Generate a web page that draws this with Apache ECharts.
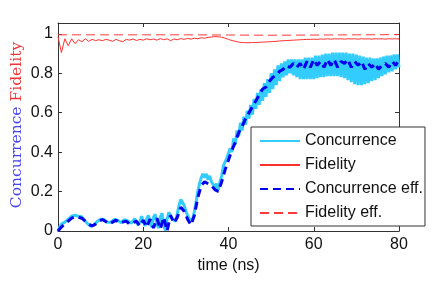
<!DOCTYPE html>
<html>
<head>
<meta charset="utf-8">
<script src="https://cdn.jsdelivr.net/npm/echarts@6/dist/echarts.min.js"></script>
<style>html,body{margin:0;padding:0;background:#fff}#c{width:436px;height:289px}</style>
</head>
<body>
<div id="c"></div>
<script>
// x axis ticks
const xTicks = [0, 20, 40, 60, 80];
const yTicks = [0, 0.2, 0.4, 0.6, 0.8, 1];
// sampling steps (ns) of each series
const concurrenceStep = 0.4;
const concurrenceEffStep = 0.8;
const fidelityStep = 0.8;
const fidelityEffStep = 10;

const concurrence = [
0.00,0.02,0.035,0.04,0.045,0.05,0.06,0.068,0.075,0.078,
0.08,0.079,0.075,0.07,0.072,0.06,0.05,0.04,0.03,0.025,
0.022,0.03,0.04,0.048,0.055,0.06,0.064,0.058,0.05,0.044,
0.04,0.045,0.052,0.058,0.06,0.055,0.046,0.042,0.05,0.058,
0.06,0.05,0.043,0.04,0.05,0.062,0.052,0.03,0.045,0.075,
0.05,0.025,0.06,0.08,0.04,0.02,0.07,0.085,0.035,0.015,
0.07,0.09,0.03,0.002,0.06,0.095,0.09,0.06,0.05,0.05,
0.09,0.13,0.16,0.155,0.13,0.1,0.08,0.06,0.05,0.06,
0.1,0.15,0.2,0.24,0.27,0.29,0.27,0.29,0.26,0.28,
0.25,0.26,0.22,0.24,0.21,0.25,0.28,0.33,0.32,0.37,
0.36,0.42,0.40,0.47,0.44,0.51,0.48,0.55,0.51,0.58,
0.54,0.61,0.57,0.64,0.59,0.67,0.62,0.70,0.64,0.72,
0.66,0.75,0.68,0.77,0.70,0.80,0.72,0.82,0.74,0.84,
0.76,0.85,0.78,0.86,0.79,0.87,0.80,0.87,0.79,0.87,
0.78,0.87,0.77,0.87,0.77,0.88,0.77,0.88,0.77,0.88,
0.77,0.89,0.775,0.89,0.78,0.895,0.78,0.90,0.785,0.90,
0.785,0.905,0.785,0.905,0.785,0.905,0.78,0.905,0.775,0.905,
0.765,0.90,0.755,0.90,0.745,0.895,0.74,0.89,0.74,0.885,
0.745,0.88,0.75,0.88,0.76,0.875,0.765,0.875,0.775,0.88,
0.785,0.885,0.795,0.89,0.805,0.89,0.81,0.895,0.82,0.895,
0.83
];

const concurrenceEff = [
0.0,0.02,0.035,0.05,0.065,0.072,0.07,0.065,0.05,0.035,
0.025,0.035,0.05,0.058,0.048,0.035,0.045,0.055,0.04,0.045,
0.05,0.035,0.042,0.05,0.025,0.055,0.02,0.06,0.015,0.065,
0.01,0.07,0.0,0.08,0.04,0.07,0.12,0.1,0.06,0.03,
0.08,0.17,0.23,0.25,0.24,0.23,0.21,0.2,0.25,0.31,
0.36,0.41,0.45,0.5,0.53,0.57,0.6,0.63,0.66,0.69,
0.72,0.73,0.76,0.78,0.79,0.81,0.82,0.84,0.83,0.85,
0.83,0.85,0.82,0.86,0.83,0.87,0.84,0.86,0.83,0.87,
0.84,0.87,0.83,0.86,0.85,0.87,0.83,0.86,0.84,0.86,
0.82,0.85,0.83,0.85,0.82,0.84,0.85,0.83,0.86,0.84,
0.87
];

const fidelity = [
0.985,0.905,0.975,0.94,0.975,0.95,0.97,0.96,0.975,0.962,
0.972,0.966,0.97,0.965,0.972,0.968,0.962,0.972,0.965,0.96,
0.972,0.968,0.974,0.966,0.972,0.968,0.975,0.97,0.974,0.968,
0.976,0.97,0.975,0.965,0.974,0.97,0.976,0.972,0.977,0.973,
0.978,0.975,0.98,0.978,0.982,0.984,0.986,0.985,0.983,0.978,
0.972,0.966,0.962,0.958,0.956,0.955,0.955,0.956,0.956,0.957,
0.958,0.959,0.96,0.961,0.962,0.964,0.965,0.966,0.967,0.968,
0.969,0.97,0.971,0.972,0.972,0.973,0.972,0.974,0.973,0.975,
0.973,0.975,0.974,0.975,0.973,0.975,0.974,0.975,0.973,0.975,
0.974,0.975,0.973,0.975,0.974,0.975,0.973,0.975,0.974,0.975,
0.974
];

const fidelityEff = [0.995,0.995,0.995,0.995,0.994,0.993,0.994,0.995,0.996];

function pairs(values, step) {
  return values.map(function (v, i) { return [+(i * step).toFixed(3), v]; });
}

const chart = echarts.init(document.getElementById('c'), null, {renderer: 'canvas'});
const axisCol = '#333';
const sans = 'Liberation Sans, Arial, sans-serif';
const serif = 'DejaVu Serif, serif';

chart.setOption({
  animation: false,
  backgroundColor: '#fff',
  grid: {left: 58, right: 37, top: 23, bottom: 58, containLabel: false, outerBoundsMode: 'none'},
  legend: {
    orient: 'vertical',
    left: 251, top: 127,
    itemWidth: 40, itemHeight: 14, itemGap: 8,
    padding: [6, 2, 5, 8],
    backgroundColor: '#fff',
    borderColor: '#333', borderWidth: 1, borderRadius: 0,
    itemStyle: {opacity: 0},
    textStyle: {fontFamily: sans, fontSize: 16, color: '#111'},
    data: ['Concurrence', 'Fidelity', 'Concurrence eff.', 'Fidelity eff.']
  },
  xAxis: [{
    type: 'value', min: 0, max: 80, interval: 20,
    name: 'time (ns)', nameLocation: 'middle', nameGap: 26,
    nameTextStyle: {fontFamily: sans, fontSize: 16, color: '#111'},
    axisLine: {onZero: false, lineStyle: {color: axisCol, width: 1}},
    axisTick: {inside: true, length: 4, lineStyle: {color: axisCol}},
    axisLabel: {fontFamily: sans, fontSize: 16, color: '#111', margin: 6,
      formatter: function (v) { return xTicks.indexOf(v) >= 0 ? String(v) : ''; }},
    splitLine: {show: false}
  }, {
    type: 'value', position: 'top', min: 0, max: 80, interval: 20,
    axisLine: {onZero: false, lineStyle: {color: axisCol, width: 1}},
    axisTick: {inside: true, length: 4, lineStyle: {color: axisCol}},
    axisLabel: {show: false}, splitLine: {show: false}
  }],
  yAxis: [{
    type: 'value', min: 0, max: 1.055, interval: 0.2,
    name: '{b|Concurrence} {r|Fidelity}', nameLocation: 'middle', nameGap: 33, nameRotate: 90,
    nameMoveOverlap: false,
    nameTextStyle: {
      rich: {
        b: {fontFamily: serif, fontSize: 15.5, color: '#4646f0'},
        r: {fontFamily: serif, fontSize: 15.5, color: '#ee3636'}
      },
      fontFamily: serif, fontSize: 15.5, padding: [0, 0, 0, 4]
    },
    axisLine: {show: true, onZero: false, lineStyle: {color: axisCol, width: 1}},
    axisTick: {show: true, inside: true, length: 4, lineStyle: {color: axisCol}},
    axisLabel: {fontFamily: sans, fontSize: 16, color: '#111', margin: 5, showMaxLabel: false,
      formatter: function (v) {
        for (let i = 0; i < yTicks.length; i++) { if (Math.abs(v - yTicks[i]) < 1e-6) return String(yTicks[i]); }
        return '';
      }},
    splitLine: {show: false}
  }, {
    type: 'value', position: 'right', min: 0, max: 1.055, interval: 0.2,
    axisLine: {show: true, onZero: false, lineStyle: {color: axisCol, width: 1}},
    axisTick: {show: true, inside: true, length: 4, lineStyle: {color: axisCol}},
    axisLabel: {show: false}, splitLine: {show: false}
  }],
  series: [{
    name: 'Concurrence', type: 'line', symbol: 'none', z: 2,
    data: pairs(concurrence, concurrenceStep),
    lineStyle: {color: '#33ccff', width: 3}, itemStyle: {color: '#33ccff'}
  }, {
    name: 'Fidelity', type: 'line', symbol: 'none', z: 3,
    data: pairs(fidelity, fidelityStep),
    lineStyle: {color: '#ff3030', width: 1}, itemStyle: {color: '#ff3030'}
  }, {
    name: 'Concurrence eff.', type: 'line', symbol: 'none', z: 4,
    data: pairs(concurrenceEff, concurrenceEffStep),
    lineStyle: {color: '#0000ee', width: 3, type: [8, 5]}, itemStyle: {color: '#0000ee'}
  }, {
    name: 'Fidelity eff.', type: 'line', symbol: 'none', z: 5,
    data: pairs(fidelityEff, fidelityEffStep),
    lineStyle: {color: '#ff3a3a', width: 1, type: [9, 5]}, itemStyle: {color: '#ff3a3a'}
  }]
});
</script>
</body>
</html>
